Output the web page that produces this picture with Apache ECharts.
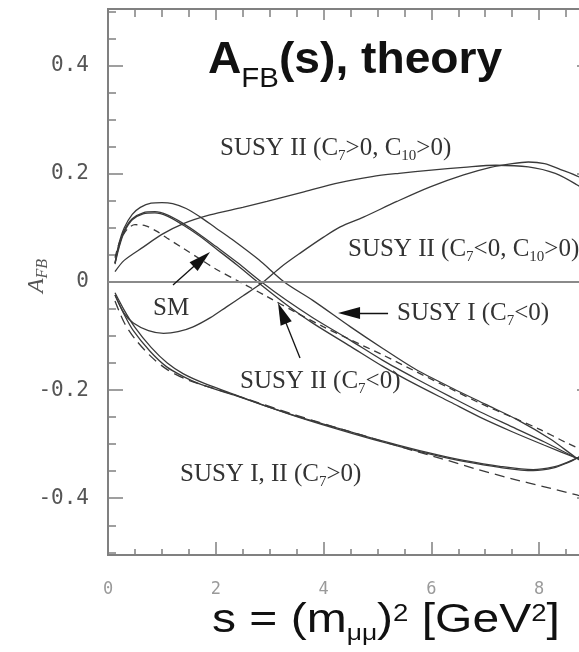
<!DOCTYPE html>
<html><head><meta charset="utf-8">
<script src="https://cdn.jsdelivr.net/npm/echarts@6/dist/echarts.min.js"></script>
<style>html,body{margin:0;padding:0;background:#fff}#c{width:579px;height:652px}</style>
</head><body><div id="c"></div>
<script>
// ---- axis ticks / labels ----
const xMinor = [0,0.5,1,1.5,2,2.5,3,3.5,4,4.5,5,5.5,6,6.5,7,7.5,8,8.5,9];
const xMajor = [0,2,4,6,8];
const yMinor = [-0.5,-0.45,-0.4,-0.35,-0.3,-0.25,-0.2,-0.15,-0.1,-0.05,0,0.05,0.1,0.15,0.2,0.25,0.3,0.35,0.4,0.45,0.5];
const yMajor = [-0.4,-0.2,0,0.2,0.4];

// ---- curves (s in GeV^2, A_FB) ----
// SM (dashed)
const smX = [0.13,0.22,0.35,0.5,0.7,0.9,1.1,1.4,1.7,2.0,2.45,2.95,3.5,4.0,4.5,5.1,5.7,6.35,6.9,7.5,8.0,8.5,9.0];
const smY = [0.045,0.075,0.097,0.106,0.104,0.094,0.081,0.062,0.043,0.024,0.0,-0.027,-0.057,-0.083,-0.107,-0.135,-0.165,-0.197,-0.224,-0.25,-0.272,-0.297,-0.32];
// SUSY I (C7<0)
const s1X = [0.13,0.2,0.3,0.45,0.6,0.8,1.0,1.2,1.45,1.7,2.0,2.3,2.8,3.27,3.8,4.5,5.1,5.7,6.4,7.0,7.6,8.2,8.7,9.0];
const s1Y = [0.035,0.07,0.1,0.125,0.138,0.146,0.147,0.145,0.136,0.121,0.1,0.079,0.041,0.0,-0.034,-0.083,-0.123,-0.161,-0.197,-0.226,-0.255,-0.29,-0.326,-0.345];
// SUSY II (C7<0), two variants
const s2X = [0.13,0.2,0.3,0.45,0.65,0.87,1.1,1.4,1.7,2.0,2.4,2.85,3.3,3.8,4.5,5.1,5.7,6.35,6.9,7.5,8.1,8.7,9.0];
const s2Y = [0.035,0.065,0.095,0.117,0.128,0.13,0.124,0.108,0.088,0.066,0.036,0.0,-0.033,-0.066,-0.108,-0.145,-0.178,-0.212,-0.24,-0.268,-0.296,-0.326,-0.34];
const s3X = [0.13,0.2,0.3,0.45,0.65,0.87,1.1,1.4,1.7,2.0,2.4,2.85,3.3,3.8,4.5,5.1,5.7,6.35,6.9,7.5,8.1,8.7,9.0];
const s3Y = [0.033,0.062,0.092,0.115,0.126,0.128,0.122,0.105,0.085,0.062,0.031,-0.006,-0.041,-0.076,-0.119,-0.156,-0.189,-0.222,-0.25,-0.277,-0.302,-0.326,-0.338];
// SUSY II (C7>0, C10>0)
const aX = [0.13,0.3,0.66,1.0,1.4,1.89,2.5,2.95,3.6,4.3,4.9,5.4,6.0,6.6,7.2,7.8,8.3,8.7,9.0];
const aY = [0.019,0.04,0.065,0.088,0.108,0.124,0.138,0.149,0.166,0.184,0.195,0.201,0.207,0.212,0.216,0.213,0.201,0.18,0.16];
// SUSY II (C7<0, C10>0)
const bX = [0.13,0.3,0.47,0.75,1.03,1.3,1.58,1.9,2.2,2.5,2.88,3.2,3.56,4.0,4.31,4.74,5.36,5.98,6.6,7.1,7.5,7.8,8.1,8.4,8.75,9.0];
const bY = [-0.024,-0.058,-0.076,-0.09,-0.095,-0.092,-0.083,-0.066,-0.046,-0.026,0.0,0.027,0.053,0.083,0.102,0.12,0.149,0.176,0.198,0.212,0.219,0.222,0.219,0.208,0.194,0.18];
// SUSY I, II (C7>0): two solid, one dashed
const l1X = [0.13,0.3,0.47,0.78,1.09,1.4,1.71,2.33,2.95,3.56,4.18,4.8,5.4,6.04,6.6,7.27,7.89,8.27,8.51,8.74,9.0];
const l1Y = [-0.024,-0.06,-0.09,-0.128,-0.157,-0.175,-0.189,-0.209,-0.23,-0.25,-0.268,-0.286,-0.302,-0.318,-0.33,-0.341,-0.347,-0.342,-0.334,-0.324,-0.31];
const l2X = [0.13,0.3,0.5,0.8,1.1,1.4,1.8,2.4,3.0,3.56,4.18,4.8,5.4,6.04,6.6,7.27,7.89,8.27,8.51,8.74,9.0];
const l2Y = [-0.02,-0.052,-0.084,-0.121,-0.15,-0.17,-0.188,-0.21,-0.232,-0.251,-0.27,-0.288,-0.304,-0.32,-0.332,-0.343,-0.349,-0.344,-0.335,-0.324,-0.31];
const d2X = [0.13,0.3,0.5,0.8,1.1,1.5,2.0,2.6,3.2,3.8,4.4,5.0,5.6,6.2,6.8,7.5,8.1,8.7,9.0];
const d2Y = [-0.035,-0.075,-0.105,-0.138,-0.162,-0.182,-0.198,-0.217,-0.237,-0.256,-0.274,-0.292,-0.31,-0.327,-0.345,-0.364,-0.379,-0.394,-0.402];

// arrows: [tail, tip] in data coordinates
const arrowSM = [[1.206,-0.0055],[1.893,0.0555]];
const arrowS2 = [[3.563,-0.1405],[3.155,-0.0388]];
const arrowS1 = [[5.197,-0.0573],[4.269,-0.0573]];

const AX = '#808080';
const chart = echarts.init(document.getElementById('c'), null, {renderer:'canvas'});

function pairs(xs, ys){ return xs.map((x,i)=>[x, ys[i]]); }
function curve(id, xs, ys, dash){
  return {id, type:'line', data:pairs(xs,ys), showSymbol:false, smooth:0.3, silent:true,
    lineStyle:{color:'#3a3a3a', width:1.3, type: dash || 'solid'}, z:3};
}
function xAx(pos, ticks, len, labels){
  return {type:'value', position:pos, min:0, max:9, gridIndex:0,
    axisLine:{show:true, onZero:false, lineStyle:{color:AX, width:2}},
    axisTick:{show:true, inside:true, length:len, customValues:ticks, lineStyle:{color:AX, width:1.5}},
    axisLabel: labels ? {show:true, customValues:labels, margin:26, color:'#9a9a9a', fontFamily:'DejaVu Sans Mono', fontSize:17} : {show:false},
    splitLine:{show:false}};
}
function yAx(pos, ticks, len, labels){
  return {type:'value', position:pos, min:-0.505, max:0.505, gridIndex:0,
    axisLine:{show:true, onZero:false, lineStyle:{color:AX, width:2}},
    axisTick:{show:true, inside:true, length:len, customValues:ticks, lineStyle:{color:AX, width:1.5}},
    axisLabel: labels ? {show:true, customValues:labels, margin:19, color:'#555', fontFamily:'DejaVu Sans Mono', fontSize:21,
      formatter: v => (Math.abs(v) < 1e-9 ? '0' : v.toFixed(1))} : {show:false},
    splitLine:{show:false}};
}

const serif = 'Liberation Serif';
function note(x, y, text){
  return {type:'text', x, y, z:10, style:{text, align:'left', verticalAlign:'middle', textAlign:'left', textVerticalAlign:'middle',
    rich:{n:{fontSize:25, fontFamily:serif, fill:'#333'}, s:{fontSize:15, fontFamily:serif, fill:'#333', padding:[15,0,0,0]}}}};
}

const option = {
  animation:false,
  backgroundColor:'#fff',
  grid:{left:108, top:9, width:485, height:546, containLabel:false, outerBoundsMode:'none'},
  xAxis:[xAx('bottom', xMinor, 6, xMajor), xAx('bottom', xMajor, 13, null), xAx('top', xMinor, 8, null), xAx('top', xMajor, 11, null)],
  yAxis:[yAx('left', yMinor, 8, null), yAx('left', yMajor, 15, yMajor), yAx('right', yMinor, 8, null), yAx('right', yMajor, 16, null)],
  series:[
    Object.assign(curve('sm', smX, smY, [7,5]), {markLine:{silent:true, symbol:['none','none'], label:{show:false},
      lineStyle:{color:'#8a8a8a', width:2, type:'solid'}, data:[{yAxis:0}]}}),
    curve('s1', s1X, s1Y),
    curve('s2', s2X, s2Y),
    curve('s3', s3X, s3Y),
    curve('a', aX, aY),
    curve('b', bX, bY),
    curve('l1', l1X, l1Y),
    curve('l2', l2X, l2Y),
    curve('d2', d2X, d2Y, [10,6]),
    {id:'arrows', type:'line', data:[[0,0]], showSymbol:false, silent:true, lineStyle:{opacity:0}}
  ],
  graphic:[
    {type:'text', x:208, y:61, scaleX:1.05, z:10, style:{text:'{a|A}{b|FB}{a|(s), theory}', align:'left', verticalAlign:'middle', textAlign:'left', textVerticalAlign:'middle',
      rich:{a:{fontSize:44, fontWeight:'bold', fontFamily:'Liberation Sans', fill:'#111'},
            b:{fontSize:28, fontFamily:'Liberation Sans', fill:'#111', padding:[37,0,0,0]}}}},
    {type:'text', x:212, y:621, scaleX:1.2, z:10, style:{text:'{n|s = (m}{d|μμ}{n|)}{u|2}{n| [GeV}{u|2}{n|]}', align:'left', verticalAlign:'middle', textAlign:'left', textVerticalAlign:'middle',
      rich:{n:{fontSize:40, fontFamily:'Liberation Sans', fill:'#111'},
            d:{fontSize:22, fontFamily:'Liberation Sans', fill:'#111', padding:[26,0,0,0]},
            u:{fontSize:23, fontFamily:'Liberation Sans', fill:'#111', padding:[0,0,12,0]}}}},
    {type:'text', x:37, y:276, rotation:Math.PI/2, z:10, style:{text:'{a|A}{b|FB}', align:'center', verticalAlign:'middle', textAlign:'center', textVerticalAlign:'middle',
      rich:{a:{fontSize:24, fontStyle:'italic', fontFamily:serif, fill:'#555'}, b:{fontSize:16, fontStyle:'italic', fontFamily:serif, fill:'#555', padding:[12,0,0,0]}}}},
    note(220, 148.6, '{n|SUSY II (C}{s|7}{n|>0, C}{s|10}{n|>0)}'),
    note(348, 249.6, '{n|SUSY II (C}{s|7}{n|<0, C}{s|10}{n|>0)}'),
    note(397, 313.6, '{n|SUSY I (C}{s|7}{n|<0)}'),
    note(240, 381.6, '{n|SUSY II (C}{s|7}{n|<0)}'),
    note(180, 474.6, '{n|SUSY I, II (C}{s|7}{n|>0)}'),
    note(153, 308.6, '{n|SM}')
  ]
};
chart.setOption(option);

// arrow heads: line from tail to head centre, triangle drawn at head centre pointing to tip
const HEAD = 22;
function arrowItem(a){
  const p = chart.convertToPixel({seriesIndex:0}, a[0]);
  const q = chart.convertToPixel({seriesIndex:0}, a[1]);
  const dx = q[0]-p[0], dy = q[1]-p[1], L = Math.hypot(dx, dy);
  const c = chart.convertFromPixel({seriesIndex:0}, [q[0]-dx/L*HEAD/2, q[1]-dy/L*HEAD/2]);
  return [{coord:a[0], symbol:'none'}, {coord:c, symbol:'triangle', symbolSize:[12, HEAD]}];
}
chart.setOption({series:[{id:'arrows', markLine:{silent:true, symbol:['none','triangle'], label:{show:false},
  lineStyle:{color:'#111', width:1.3, type:'solid'}, itemStyle:{color:'#111'},
  data:[arrowItem(arrowSM), arrowItem(arrowS2), arrowItem(arrowS1)]}}]});
</script>
</body></html>
